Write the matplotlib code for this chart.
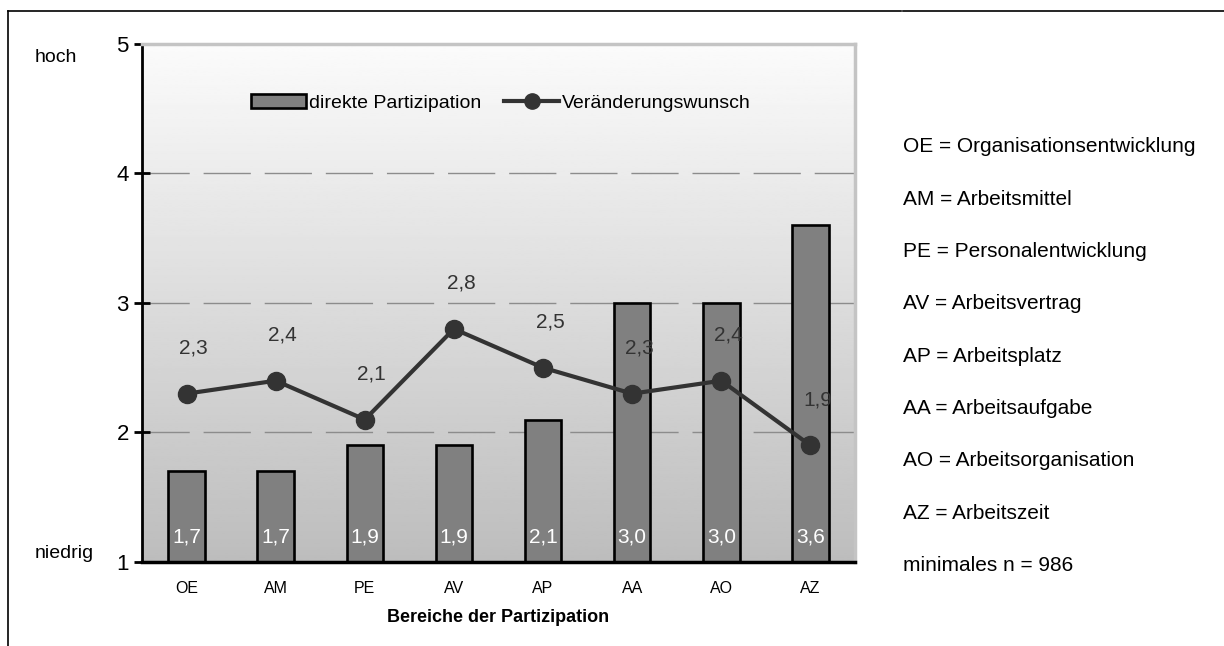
import numpy as np
import matplotlib.pyplot as plt
from matplotlib.lines import Line2D

plt.rcParams['font.family'] = ['Liberation Sans', 'DejaVu Sans']

bereiche = ["OE", "AM", "PE", "AV", "AP", "AA", "AO", "AZ"]
partizipation = [1.7, 1.7, 1.9, 1.9, 2.1, 3.0, 3.0, 3.6]
wunsch = [2.3, 2.4, 2.1, 2.8, 2.5, 2.3, 2.4, 1.9]
erlaeuterung = [
    "OE = Organisationsentwicklung",
    "AM = Arbeitsmittel",
    "PE = Personalentwicklung",
    "AV = Arbeitsvertrag",
    "AP = Arbeitsplatz",
    "AA = Arbeitsaufgabe",
    "AO = Arbeitsorganisation",
    "AZ = Arbeitszeit",
    "minimales n = 986",
]


def komma(v):
    return f"{v:.1f}".replace(".", ",")


fig = plt.figure(figsize=(12.24, 6.46), dpi=100)
ax = fig.add_axes([142 / 1224, 84 / 646, 713 / 1224, 518 / 646])

x = np.arange(len(bereiche))

# grauer Verlauf als Hintergrund der Zeichenfläche (oben hell, unten dunkel)
verlauf = np.linspace(0.985, 0.74, 256).reshape(-1, 1)
ax.imshow(verlauf, cmap="gray", vmin=0, vmax=1, aspect="auto",
          extent=(-0.5, len(bereiche) - 0.5, 1, 5), origin="upper", zorder=0)

for y in [2, 3, 4]:
    ax.axhline(y, color="#8c8c8c", lw=1, dashes=(34, 10), zorder=1)

ax.bar(x, partizipation, width=0.41, bottom=0, color="#808080",
       edgecolor="black", linewidth=1.9, zorder=2)
ax.plot(x, wunsch, color="#333333", lw=3, marker="o", markersize=13, zorder=3)

for xi, v in zip(x, partizipation):
    ax.annotate(komma(v), (xi, 1), xytext=(0, 18), textcoords="offset points",
                ha="center", va="center", color="white", fontsize=15, zorder=4)
for xi, v in zip(x, wunsch):
    ax.annotate(komma(v), (xi, v), xytext=(5, 33), textcoords="offset points",
                ha="center", va="center", color="#333333", fontsize=15, zorder=4)

ax.set_xlim(-0.5, len(bereiche) - 0.5)
ax.set_ylim(1, 5)
ax.set_xticks(x)
ax.set_xticklabels(bereiche, fontsize=11.5)
ax.set_yticks([1, 2, 3, 4, 5])
ax.set_yticklabels(["1", "2", "3", "4", "5"], fontsize=16)
ax.tick_params(axis="x", length=0, pad=14)
ax.tick_params(axis="y", direction="inout", length=11, width=2, pad=4)
ax.set_xlabel("Bereiche der Partizipation", fontsize=13, fontweight="bold",
              labelpad=9)

ax.spines["left"].set_linewidth(2)
ax.spines["bottom"].set_linewidth(2.5)
ax.spines["top"].set_color("#c4c4c4")
ax.spines["top"].set_linewidth(2.5)
ax.spines["right"].set_color("#c4c4c4")
ax.spines["right"].set_linewidth(2.5)

fig.text(35 / 1224, 1 - 57 / 646, "hoch", fontsize=14, va="center")
fig.text(35 / 1224, 1 - 553 / 646, "niedrig", fontsize=14, va="center")

handles = [
    plt.Rectangle((0, 0), 1, 1, facecolor="#808080", edgecolor="black", lw=1.9),
    Line2D([], [], color="#333333", lw=3, marker="o", markersize=11),
]
fig.legend(handles, ["direkte Partizipation", "Veränderungswunsch"],
           loc="center", bbox_to_anchor=(501 / 1224, 1 - 103 / 646),
           ncol=2, frameon=False, fontsize=14, handlelength=2.8,
           handletextpad=0.15, columnspacing=1.2)

for i, t in enumerate(erlaeuterung):
    fig.text(903 / 1224, 1 - (147 + i * 52.3) / 646, t, fontsize=15,
             va="center")

# Rahmenlinien oben und links
fig.add_artist(Line2D([8 / 1224, 901 / 1224], [1 - 11 / 646] * 2,
                      color="black", lw=1.2))
fig.add_artist(Line2D([903 / 1224, 1], [1 - 11 / 646] * 2,
                      color="black", lw=1.2))
fig.add_artist(Line2D([8 / 1224] * 2, [0, 1 - 11 / 646],
                      color="black", lw=1.2))

fig.savefig("out.png", dpi=100)
